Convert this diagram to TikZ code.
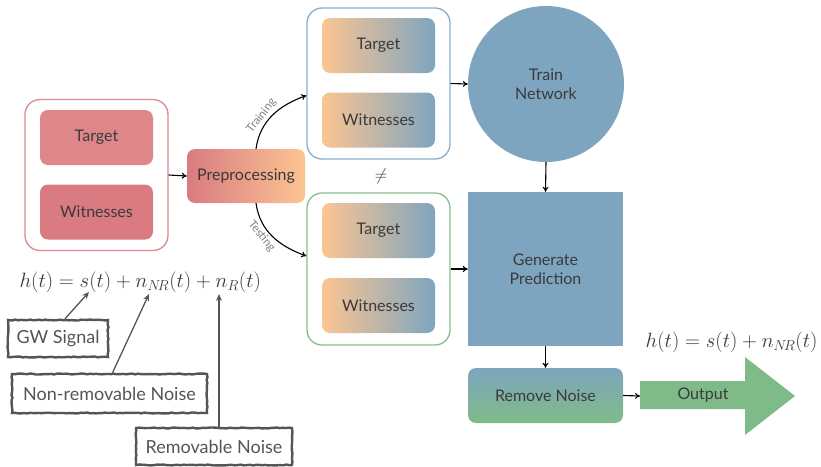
\documentclass[tikz,border=0pt]{standalone}
\usepackage{fontspec}
\setmainfont{Lato}
\usetikzlibrary{arrows.meta,calc,decorations.pathmorphing}

\definecolor{redA}{HTML}{DF868B}
\definecolor{redB}{HTML}{D97B80}
\definecolor{redLine}{HTML}{DB8A8D}
\definecolor{peach}{HTML}{FCC592}
\definecolor{steel}{HTML}{7EA5BF}
\definecolor{steelLine}{HTML}{88AECB}
\definecolor{sage}{HTML}{7FBB88}
\definecolor{sageLine}{HTML}{86BE8E}
\definecolor{ink}{HTML}{3A3A3A}
\definecolor{sketch}{HTML}{555555}

\tikzset{
  lbl/.style={text=ink, font=\fontsize{16}{19}\selectfont, align=center},
  container/.style={draw, line width=1.3pt, rounded corners=15pt, fill=white,
    minimum width=143pt, minimum height=151pt, inner sep=0pt},
  inbox/.style={lbl, rounded corners=8pt, minimum width=113pt, minimum height=55pt, inner sep=0pt},
  mixbox/.style={inbox, left color=peach, right color=steel},
  flow/.style={-{To[length=5pt,width=6pt]}, line width=1.1pt, black},
  note/.style={text=sketch, font=\fontsize{18}{21}\selectfont, draw=sketch, line width=2.4pt,
    fill=white, inner sep=0pt,
    decorate, decoration={random steps, segment length=3pt, amplitude=0.5pt}},
  pointer/.style={-{Stealth[length=7pt,width=6pt]}, line width=1.3pt, sketch},
  branch/.style={font=\fontsize{11.5}{13}\selectfont, text=gray, inner sep=2pt},
  formula/.style={text=ink}
}

\begin{document}
\begin{tikzpicture}[x=1pt, y=-1pt]
\useasboundingbox (0,0) rectangle (821,466);

% raw data block
\node[container, draw=redLine] (inL) at (96.5,175) {};
\node[inbox, fill=redA] (tgtL) at (96.5,137.5) {Target};
\node[inbox, fill=redB] (witL) at (96.5,212) {Witnesses};

% preprocessing
\node[lbl, rounded corners=8pt, minimum width=118pt, minimum height=54pt, inner sep=0pt,
  left color=redB, right color=peach] (pre) at (246,176) {Preprocessing};

% training and testing sets
\node[container, draw=steelLine] (train) at (378.5,83.5) {};
\node[mixbox] (tgtU) at (378.5,45.5) {Target};
\node[mixbox] (witU) at (378.5,120) {Witnesses};

\node[container, draw=sageLine, minimum height=152pt] (test) at (378.5,269) {};
\node[mixbox] (tgtD) at (378.5,230.5) {Target};
\node[mixbox] (witD) at (378.5,305.5) {Witnesses};

\node[text=ink, font=\fontsize{16}{19}\selectfont] (neq) at (381,176) {$\neq$};

% network stages
\node[lbl, circle, fill=steel, minimum size=156pt, inner sep=0pt] (net) at (546,84) {Train\\Network};
\node[lbl, fill=steel, minimum width=155pt, minimum height=154pt, inner sep=0pt] (gen) at (545.5,269) {Generate\\Prediction};
\node[lbl, rounded corners=8pt, minimum width=155pt, minimum height=55pt, inner sep=0pt,
  top color=steel, bottom color=sage] (rn) at (545.5,395.5) {Remove Noise};

% output arrow
\fill[sage] (640,381) -- (745,381) -- (745,357) -- (795,396) -- (745,435) -- (745,409) -- (640,409) -- cycle;
\coordinate (otail) at (640,396);
\node[lbl] (outlbl) at (703,395) {Output};

% connectors
\draw[flow] (inL.east) -- (pre.west);
\draw[flow] ($(pre.north)+(10,0)$) to[out=82,in=200]
  node[branch, pos=0.4, sloped, above] {Training} ($(train.west)+(0,12)$);
\draw[flow] ($(pre.south)+(10,0)$) to[out=-82,in=160]
  node[branch, pos=0.4, sloped, below] {Testing} ($(test.west)+(0,-13)$);
\draw[flow] (train.east) -- (net.west);
\draw[flow] (test.east) -- (gen.west);
\draw[flow] (net.south) -- (gen.north);
\draw[flow] (gen.south) -- (rn.north);
\draw[flow] (rn.east) -- (otail);

% signal model
\node[formula, font=\fontsize{21}{24}\selectfont, anchor=west] (eqL) at (16,282)
  {$h(t) = s(t) + n_{N\!R}(t) + n_R(t)$};
\node[formula, font=\fontsize{22.5}{26}\selectfont, anchor=east] (eqR) at (821,342)
  {$h(t) = s(t) + n_{N\!R}(t)$};

\coordinate (sref) at (89,292);
\coordinate (nnrref) at (149,294);
\coordinate (nrref) at (219,294);

\node[note, minimum width=100pt, minimum height=37pt] (gw) at (58,338.5) {GW Signal};
\node[note, minimum width=195pt, minimum height=39pt] (nnr) at (109.5,393.5) {Non-removable Noise};
\node[note, minimum width=156pt, minimum height=37pt] (nr) at (214,446.5) {Removable Noise};

\draw[pointer] ($(gw.north)+(7,0)$) -- (sref);
\draw[pointer] ($(nnr.north)+(3,0)$) -- (nnrref);
\draw[pointer] (nr.north -| nrref) -- (nrref);
\end{tikzpicture}
\end{document}
